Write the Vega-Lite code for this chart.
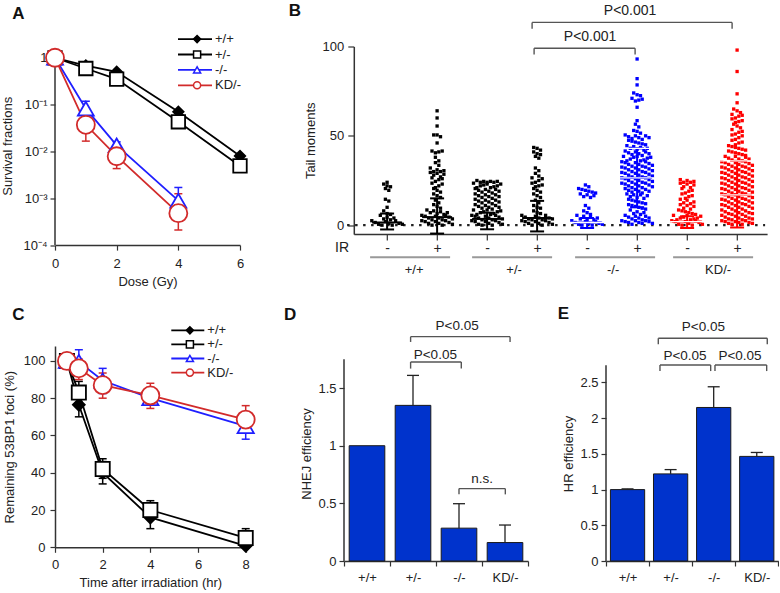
{
"$schema":"https://vega.github.io/schema/vega-lite/v6.json",
"padding":{"left":1,"top":1.5,"right":0,"bottom":0},
"background":"white",
"config":{
 "view":{"stroke":null},
 "font":"Liberation Sans",
 "axis":{"domainColor":"#333","domainWidth":1.5,"tickColor":"#333","tickWidth":1.2,"tickSize":5,"labelFont":"Liberation Sans","labelFontSize":13,"labelColor":"#222","titleFont":"Liberation Sans","titleFontSize":13,"titleFontWeight":"normal","titleColor":"#222","grid":false,"labelPadding":3,"titlePadding":6,"labelFlush":false,"labelOverlap":false},
 "legend":{"labelFont":"Liberation Sans","labelFontSize":13,"labelColor":"#222"},
 "text":{"font":"Liberation Sans","color":"#222"}
},
"datasets":{
 "a":[{"g":"+/+","d":0,"s":1},{"g":"+/+","d":1,"s":0.68},{"g":"+/+","d":2,"s":0.5},{"g":"+/+","d":4,"s":0.07},{"g":"+/+","d":6,"s":0.008},
  {"g":"+/-","d":0,"s":1},{"g":"+/-","d":1,"s":0.59},{"g":"+/-","d":2,"s":0.35},{"g":"+/-","d":4,"s":0.043},{"g":"+/-","d":6,"s":0.0049},
  {"g":"-/-","d":0,"s":1},{"g":"-/-","d":1,"s":0.082},{"g":"-/-","d":2,"s":0.0135},{"g":"-/-","d":4,"s":0.00089},
  {"g":"KD/-","d":0,"s":1},{"g":"KD/-","d":1,"s":0.037},{"g":"KD/-","d":2,"s":0.0079},{"g":"KD/-","d":4,"s":0.00048}],
 "ae":[{"g":"-/-","d":1,"lo":0.06,"hi":0.118},{"g":"-/-","d":2,"lo":0.011,"hi":0.016},{"g":"-/-","d":4,"lo":0.0006,"hi":0.0017},
  {"g":"KD/-","d":1,"lo":0.0166,"hi":0.05},{"g":"KD/-","d":2,"lo":0.0043,"hi":0.011},{"g":"KD/-","d":4,"lo":0.00021,"hi":0.00125}],
 "c":[{"g":"+/+","t":0.5,"f":100},{"g":"+/+","t":1,"f":76.5},{"g":"+/+","t":2,"f":40},{"g":"+/+","t":4,"f":16},{"g":"+/+","t":8,"f":0.8},
  {"g":"+/-","t":0.5,"f":100},{"g":"+/-","t":1,"f":83},{"g":"+/-","t":2,"f":42},{"g":"+/-","t":4,"f":20},{"g":"+/-","t":8,"f":5},
  {"g":"-/-","t":0.5,"f":100},{"g":"-/-","t":1,"f":99.5},{"g":"-/-","t":2,"f":89.5},{"g":"-/-","t":4,"f":80},{"g":"-/-","t":8,"f":65},
  {"g":"KD/-","t":0.5,"f":100},{"g":"KD/-","t":1,"f":96},{"g":"KD/-","t":2,"f":87},{"g":"KD/-","t":4,"f":81.5},{"g":"KD/-","t":8,"f":68.5}],
 "ce":[{"g":"+/+","t":1,"lo":70,"hi":83},{"g":"+/+","t":2,"lo":34,"hi":46},{"g":"+/+","t":4,"lo":10,"hi":22},{"g":"+/+","t":8,"lo":0,"hi":2},
  {"g":"+/-","t":1,"lo":77,"hi":89},{"g":"+/-","t":2,"lo":37,"hi":47.5},{"g":"+/-","t":4,"lo":15,"hi":25},{"g":"+/-","t":8,"lo":0,"hi":10},
  {"g":"-/-","t":1,"lo":93,"hi":106},{"g":"-/-","t":2,"lo":82.5,"hi":96},{"g":"-/-","t":4,"lo":78,"hi":84},{"g":"-/-","t":8,"lo":58,"hi":72},
  {"g":"KD/-","t":1,"lo":90,"hi":101},{"g":"KD/-","t":2,"lo":80,"hi":93.5},{"g":"KD/-","t":4,"lo":74.5,"hi":88},{"g":"KD/-","t":8,"lo":63,"hi":76}],
 "d":[{"g":"+/+","v":1.0,"e":null},{"g":"+/-","v":1.35,"e":1.61},{"g":"-/-","v":0.285,"e":0.497},{"g":"KD/-","v":0.16,"e":0.312}],
 "db":[{"x1":1.448,"x2":2.55,"y":1.726,"yd":1.669,"t":"P<0.05","tx":1.985,"ty":1.79},
  {"x1":1.448,"x2":3.61,"y":1.946,"yd":1.9,"t":"P<0.05","tx":2.46,"ty":2.04},
  {"x1":2.5,"x2":3.507,"y":0.628,"yd":0.578,"t":"n.s.","tx":3.0,"ty":0.71}],
 "e":[{"g":"+/+","v":1.0,"e":1.01},{"g":"+/-","v":1.22,"e":1.28},{"g":"-/-","v":2.15,"e":2.44},{"g":"KD/-","v":1.465,"e":1.52}],
 "eb":[{"x1":1.253,"x2":2.43,"y":2.745,"yd":2.66,"t":"P<0.05","tx":1.834,"ty":2.87},
  {"x1":2.53,"x2":3.73,"y":2.745,"yd":2.66,"t":"P<0.05","tx":3.11,"ty":2.87},
  {"x1":1.214,"x2":3.744,"y":3.12,"yd":3.035,"t":"P<0.05","tx":2.26,"ty":3.28}],
 "bm":[{"c":1,"m":1.5,"lo":-2.4,"hi":6.5},{"c":2,"m":4.5,"lo":-4.7,"hi":15},{"c":3,"m":3.5,"lo":-2.3,"hi":7},{"c":4,"m":4,"lo":-3.5,"hi":13.6},
  {"c":5,"m":1.5,"lo":-1.6,"hi":4},{"c":6,"m":26.5,"lo":10,"hi":43},{"c":7,"m":2,"lo":-1.6,"hi":5},{"c":8,"m":17,"lo":-1.3,"hi":36}],
 "bb":[{"x1":3.94,"x2":5.96,"y":99,"yd":95.5,"t":"P<0.001","tx":5.06,"ty":105.5},{"x1":3.9,"x2":7.9,"y":113.5,"yd":110,"t":"P<0.001","tx":5.86,"ty":120}],
 "bg":[{"l":"+/+","a":0.66,"b":2.26,"m":1.54},{"l":"+/-","a":2.7,"b":4.3,"m":3.54},{"l":"-/-","a":4.76,"b":6.36,"m":5.52},{"l":"KD/-","a":6.72,"b":8.32,"m":7.62}],
 "b":[
{"c":1,"v":0},{"c":1,"v":0},{"c":1,"v":0.5},{"c":1,"v":0.5},{"c":1,"v":1},{"c":1,"v":1},{"c":1,"v":1.5},{"c":1,"v":2},{"c":1,"v":2.5},{"c":1,"v":2.5},
{"c":1,"v":3},{"c":1,"v":3.5},{"c":1,"v":4},{"c":1,"v":4.5},{"c":1,"v":5.5},{"c":1,"v":6},{"c":1,"v":6.5},{"c":1,"v":8},{"c":1,"v":10},{"c":1,"v":13.5},
{"c":1,"v":14.5},{"c":1,"v":19.5},{"c":1,"v":20.5},{"c":1,"v":21.5},{"c":1,"v":22},{"c":1,"v":23},{"c":1,"v":24},
{"c":2,"v":0},{"c":2,"v":0},{"c":2,"v":0.5},{"c":2,"v":1},{"c":2,"v":1},{"c":2,"v":1.5},{"c":2,"v":2},{"c":2,"v":2},{"c":2,"v":2.5},{"c":2,"v":2.5},
{"c":2,"v":3},{"c":2,"v":3},{"c":2,"v":3.5},{"c":2,"v":4},{"c":2,"v":4},{"c":2,"v":4.5},{"c":2,"v":5},{"c":2,"v":5},{"c":2,"v":5.5},{"c":2,"v":5.5},
{"c":2,"v":6},{"c":2,"v":6.5},{"c":2,"v":7},{"c":2,"v":7},{"c":2,"v":7.5},{"c":2,"v":8},{"c":2,"v":8.5},{"c":2,"v":9.5},{"c":2,"v":10.5},{"c":2,"v":11.5},
{"c":2,"v":12.5},{"c":2,"v":14},{"c":2,"v":15.5},{"c":2,"v":16.5},{"c":2,"v":17.5},{"c":2,"v":18.5},{"c":2,"v":19.5},{"c":2,"v":20.5},{"c":2,"v":21},{"c":2,"v":22},
{"c":2,"v":23},{"c":2,"v":23.5},{"c":2,"v":24.5},{"c":2,"v":25.5},{"c":2,"v":26},{"c":2,"v":26.5},{"c":2,"v":27},{"c":2,"v":28},{"c":2,"v":28.5},{"c":2,"v":29},
{"c":2,"v":29.5},{"c":2,"v":30},{"c":2,"v":30},{"c":2,"v":30.5},{"c":2,"v":31},{"c":2,"v":32},{"c":2,"v":33.5},{"c":2,"v":35},{"c":2,"v":36},{"c":2,"v":38},
{"c":2,"v":40.5},{"c":2,"v":41},{"c":2,"v":41.5},{"c":2,"v":41.5},{"c":2,"v":46},{"c":2,"v":49.5},{"c":2,"v":50.5},{"c":2,"v":50.5},{"c":2,"v":55.5},{"c":2,"v":60},{"c":2,"v":64},
{"c":3,"v":0},{"c":3,"v":0},{"c":3,"v":0.5},{"c":3,"v":0.5},{"c":3,"v":1},{"c":3,"v":1.5},{"c":3,"v":2},{"c":3,"v":2},{"c":3,"v":2.5},{"c":3,"v":2.5},
{"c":3,"v":3},{"c":3,"v":3},{"c":3,"v":3.5},{"c":3,"v":4},{"c":3,"v":4},{"c":3,"v":4.5},{"c":3,"v":5},{"c":3,"v":5},{"c":3,"v":5.5},{"c":3,"v":5.5},
{"c":3,"v":6},{"c":3,"v":6},{"c":3,"v":6.5},{"c":3,"v":7},{"c":3,"v":7.5},{"c":3,"v":7.5},{"c":3,"v":8},{"c":3,"v":8.5},{"c":3,"v":8.5},
{"c":3,"v":9},{"c":3,"v":9.5},{"c":3,"v":10},{"c":3,"v":10},{"c":3,"v":10.5},{"c":3,"v":11},{"c":3,"v":11},{"c":3,"v":11.5},
{"c":3,"v":12},{"c":3,"v":12.5},{"c":3,"v":13},{"c":3,"v":13},{"c":3,"v":13.5},{"c":3,"v":14},{"c":3,"v":14},{"c":3,"v":14.5},
{"c":3,"v":15},{"c":3,"v":15.5},{"c":3,"v":16},{"c":3,"v":16},{"c":3,"v":16.5},{"c":3,"v":17},{"c":3,"v":17},{"c":3,"v":17.5},
{"c":3,"v":18},{"c":3,"v":18.5},{"c":3,"v":19},{"c":3,"v":19},{"c":3,"v":19.5},{"c":3,"v":20},{"c":3,"v":20},{"c":3,"v":20.5},
{"c":3,"v":21},{"c":3,"v":21},{"c":3,"v":21.5},{"c":3,"v":22},{"c":3,"v":22},{"c":3,"v":22.5},{"c":3,"v":23},{"c":3,"v":23},{"c":3,"v":23.5},
{"c":3,"v":24},{"c":3,"v":24},{"c":3,"v":24},{"c":3,"v":24.5},{"c":3,"v":24.5},{"c":3,"v":24.5},{"c":3,"v":25},
{"c":4,"v":0},{"c":4,"v":0},{"c":4,"v":0.5},{"c":4,"v":1},{"c":4,"v":1},{"c":4,"v":1.5},{"c":4,"v":2},{"c":4,"v":2},{"c":4,"v":2.5},{"c":4,"v":2.5},
{"c":4,"v":3},{"c":4,"v":3},{"c":4,"v":3.5},{"c":4,"v":3.5},{"c":4,"v":4},{"c":4,"v":4},{"c":4,"v":4.5},{"c":4,"v":5},{"c":4,"v":5.5},{"c":4,"v":5.5},
{"c":4,"v":6.5},{"c":4,"v":7},{"c":4,"v":8},{"c":4,"v":9.5},{"c":4,"v":10},{"c":4,"v":11},{"c":4,"v":12.5},{"c":4,"v":14},{"c":4,"v":15.5},{"c":4,"v":16.5},
{"c":4,"v":17.5},{"c":4,"v":18.5},{"c":4,"v":19.5},{"c":4,"v":20.5},{"c":4,"v":21.5},{"c":4,"v":22},{"c":4,"v":22.5},{"c":4,"v":23.5},{"c":4,"v":24},{"c":4,"v":25},
{"c":4,"v":26},{"c":4,"v":26.5},{"c":4,"v":27.5},{"c":4,"v":29},{"c":4,"v":30.5},{"c":4,"v":32},{"c":4,"v":37.5},{"c":4,"v":38.5},{"c":4,"v":39.5},{"c":4,"v":40},
{"c":4,"v":41},{"c":4,"v":42},{"c":4,"v":43},{"c":4,"v":43.5},
{"c":5,"v":0},{"c":5,"v":0},{"c":5,"v":0.5},{"c":5,"v":0.5},{"c":5,"v":1},{"c":5,"v":1},{"c":5,"v":1.5},{"c":5,"v":2},{"c":5,"v":2},{"c":5,"v":2.5},
{"c":5,"v":3},{"c":5,"v":3},{"c":5,"v":3.5},{"c":5,"v":4},{"c":5,"v":4.5},{"c":5,"v":5},{"c":5,"v":5.5},{"c":5,"v":6},{"c":5,"v":7},{"c":5,"v":8},
{"c":5,"v":9.5},{"c":5,"v":11},{"c":5,"v":15.5},{"c":5,"v":16},{"c":5,"v":16.5},{"c":5,"v":17},{"c":5,"v":17.5},{"c":5,"v":18},{"c":5,"v":18.5},{"c":5,"v":19},
{"c":5,"v":19.5},{"c":5,"v":20},{"c":5,"v":20.5},{"c":5,"v":21.5},{"c":5,"v":22.5},
{"c":6,"v":0.5},{"c":6,"v":1},{"c":6,"v":1},{"c":6,"v":1.5},{"c":6,"v":1.5},{"c":6,"v":2},{"c":6,"v":2},{"c":6,"v":2.5},{"c":6,"v":2.5},{"c":6,"v":2.5},
{"c":6,"v":3},{"c":6,"v":3.5},{"c":6,"v":4},{"c":6,"v":4},{"c":6,"v":4.5},{"c":6,"v":5},{"c":6,"v":5},{"c":6,"v":5.5},
{"c":6,"v":6},{"c":6,"v":6.5},{"c":6,"v":7},{"c":6,"v":7.5},{"c":6,"v":8.5},
{"c":6,"v":9},{"c":6,"v":9.5},{"c":6,"v":10},{"c":6,"v":10.5},{"c":6,"v":11},{"c":6,"v":11.5},
{"c":6,"v":12},{"c":6,"v":12.5},{"c":6,"v":13},{"c":6,"v":13.5},{"c":6,"v":14},{"c":6,"v":14.5},
{"c":6,"v":15},{"c":6,"v":15.5},{"c":6,"v":16},{"c":6,"v":16.5},{"c":6,"v":17},{"c":6,"v":17},{"c":6,"v":17.5},
{"c":6,"v":18},{"c":6,"v":18.5},{"c":6,"v":19},{"c":6,"v":19},{"c":6,"v":19.5},{"c":6,"v":20},{"c":6,"v":20},{"c":6,"v":20.5},
{"c":6,"v":21},{"c":6,"v":21},{"c":6,"v":21.5},{"c":6,"v":22},{"c":6,"v":22},{"c":6,"v":22.5},{"c":6,"v":23},{"c":6,"v":23},{"c":6,"v":23.5},{"c":6,"v":23.5},
{"c":6,"v":24},{"c":6,"v":24},{"c":6,"v":24.5},{"c":6,"v":25},{"c":6,"v":25},{"c":6,"v":25.5},{"c":6,"v":26},{"c":6,"v":26},{"c":6,"v":26.5},{"c":6,"v":26.5},
{"c":6,"v":27},{"c":6,"v":27},{"c":6,"v":27.5},{"c":6,"v":28},{"c":6,"v":28},{"c":6,"v":28.5},{"c":6,"v":29},{"c":6,"v":29},{"c":6,"v":29.5},{"c":6,"v":29.5},
{"c":6,"v":30},{"c":6,"v":30},{"c":6,"v":30.5},{"c":6,"v":31},{"c":6,"v":31},{"c":6,"v":31.5},{"c":6,"v":32},{"c":6,"v":32},{"c":6,"v":32.5},{"c":6,"v":32.5},
{"c":6,"v":33},{"c":6,"v":33},{"c":6,"v":33.5},{"c":6,"v":34},{"c":6,"v":34},{"c":6,"v":34.5},{"c":6,"v":35},{"c":6,"v":35},{"c":6,"v":35.5},{"c":6,"v":35.5},
{"c":6,"v":36},{"c":6,"v":36},{"c":6,"v":36.5},{"c":6,"v":37},{"c":6,"v":37.5},{"c":6,"v":38},{"c":6,"v":38},{"c":6,"v":38.5},{"c":6,"v":38.5},
{"c":6,"v":39},{"c":6,"v":39.5},{"c":6,"v":40},{"c":6,"v":40},{"c":6,"v":40.5},{"c":6,"v":41},{"c":6,"v":41},{"c":6,"v":41.5},
{"c":6,"v":42},{"c":6,"v":42.5},{"c":6,"v":43},{"c":6,"v":43},{"c":6,"v":43.5},{"c":6,"v":44},{"c":6,"v":44.5},
{"c":6,"v":45},{"c":6,"v":45.5},{"c":6,"v":46},{"c":6,"v":46.5},{"c":6,"v":47},{"c":6,"v":47.5},
{"c":6,"v":48},{"c":6,"v":48.5},{"c":6,"v":49},{"c":6,"v":49},{"c":6,"v":49.5},{"c":6,"v":50},{"c":6,"v":50},{"c":6,"v":50.5},
{"c":6,"v":51.5},{"c":6,"v":52.5},{"c":6,"v":53},{"c":6,"v":55},{"c":6,"v":56.5},{"c":6,"v":58.5},{"c":6,"v":66},
{"c":6,"v":69.5},{"c":6,"v":70},{"c":6,"v":70.5},{"c":6,"v":71},{"c":6,"v":72.5},{"c":6,"v":73},{"c":6,"v":74},{"c":6,"v":78.5},{"c":6,"v":82},{"c":6,"v":93},
{"c":7,"v":0},{"c":7,"v":0},{"c":7,"v":0.5},{"c":7,"v":0.5},{"c":7,"v":1},{"c":7,"v":1.5},{"c":7,"v":2},{"c":7,"v":2},{"c":7,"v":2.5},{"c":7,"v":2.5},
{"c":7,"v":3},{"c":7,"v":3},{"c":7,"v":3.5},{"c":7,"v":4},{"c":7,"v":4},{"c":7,"v":4.5},{"c":7,"v":5},{"c":7,"v":5.5},{"c":7,"v":5.5},
{"c":7,"v":6},{"c":7,"v":6.5},{"c":7,"v":7},{"c":7,"v":7.5},{"c":7,"v":8},{"c":7,"v":8.5},
{"c":7,"v":9},{"c":7,"v":9.5},{"c":7,"v":10.5},{"c":7,"v":11},{"c":7,"v":11.5},{"c":7,"v":12},{"c":7,"v":12.5},{"c":7,"v":13},{"c":7,"v":14},{"c":7,"v":14.5},
{"c":7,"v":15},{"c":7,"v":16},{"c":7,"v":16.5},{"c":7,"v":17.5},{"c":7,"v":18},{"c":7,"v":19},{"c":7,"v":19.5},{"c":7,"v":20.5},
{"c":7,"v":21},{"c":7,"v":21.5},{"c":7,"v":22.5},{"c":7,"v":23},{"c":7,"v":23.5},{"c":7,"v":24},{"c":7,"v":24},{"c":7,"v":24.5},{"c":7,"v":25},{"c":7,"v":25.5},
{"c":8,"v":0.5},{"c":8,"v":0.5},{"c":8,"v":1},{"c":8,"v":1},{"c":8,"v":1.5},{"c":8,"v":1.5},{"c":8,"v":2},{"c":8,"v":2},{"c":8,"v":2.5},{"c":8,"v":2.5},
{"c":8,"v":3},{"c":8,"v":3},{"c":8,"v":3.5},{"c":8,"v":3.5},{"c":8,"v":4},{"c":8,"v":4},{"c":8,"v":4.5},{"c":8,"v":5},{"c":8,"v":5},{"c":8,"v":5.5},
{"c":8,"v":6},{"c":8,"v":6},{"c":8,"v":6.5},{"c":8,"v":6.5},{"c":8,"v":7},{"c":8,"v":7},{"c":8,"v":7.5},{"c":8,"v":8},{"c":8,"v":8},{"c":8,"v":8.5},
{"c":8,"v":9},{"c":8,"v":9},{"c":8,"v":9.5},{"c":8,"v":10},{"c":8,"v":10},{"c":8,"v":10.5},{"c":8,"v":11},{"c":8,"v":11},{"c":8,"v":11.5},{"c":8,"v":11.5},
{"c":8,"v":12},{"c":8,"v":12},{"c":8,"v":12.5},{"c":8,"v":13},{"c":8,"v":13},{"c":8,"v":13.5},{"c":8,"v":14},{"c":8,"v":14},{"c":8,"v":14.5},{"c":8,"v":14.5},
{"c":8,"v":15},{"c":8,"v":15},{"c":8,"v":15.5},{"c":8,"v":16},{"c":8,"v":16},{"c":8,"v":16.5},{"c":8,"v":17},{"c":8,"v":17},{"c":8,"v":17.5},{"c":8,"v":17.5},
{"c":8,"v":18},{"c":8,"v":18},{"c":8,"v":18.5},{"c":8,"v":19},{"c":8,"v":19},{"c":8,"v":19.5},{"c":8,"v":20},{"c":8,"v":20},{"c":8,"v":20.5},{"c":8,"v":20.5},
{"c":8,"v":21},{"c":8,"v":21},{"c":8,"v":21.5},{"c":8,"v":22},{"c":8,"v":22},{"c":8,"v":22.5},{"c":8,"v":23},{"c":8,"v":23},{"c":8,"v":23.5},{"c":8,"v":23.5},
{"c":8,"v":24},{"c":8,"v":24},{"c":8,"v":24.5},{"c":8,"v":25},{"c":8,"v":25},{"c":8,"v":25.5},{"c":8,"v":26},{"c":8,"v":26},{"c":8,"v":26.5},{"c":8,"v":26.5},
{"c":8,"v":27},{"c":8,"v":27},{"c":8,"v":27.5},{"c":8,"v":28},{"c":8,"v":28},{"c":8,"v":28.5},{"c":8,"v":29},{"c":8,"v":29},{"c":8,"v":29.5},{"c":8,"v":29.5},
{"c":8,"v":30},{"c":8,"v":30},{"c":8,"v":30.5},{"c":8,"v":31},{"c":8,"v":31},{"c":8,"v":31.5},{"c":8,"v":32},{"c":8,"v":32},{"c":8,"v":32.5},{"c":8,"v":32.5},
{"c":8,"v":33},{"c":8,"v":33},{"c":8,"v":33.5},{"c":8,"v":34},{"c":8,"v":34},{"c":8,"v":34.5},{"c":8,"v":35},{"c":8,"v":35},{"c":8,"v":35.5},{"c":8,"v":35.5},
{"c":8,"v":36},{"c":8,"v":36.5},{"c":8,"v":37},{"c":8,"v":37},{"c":8,"v":37.5},{"c":8,"v":38},{"c":8,"v":38.5},{"c":8,"v":38.5},
{"c":8,"v":39},{"c":8,"v":39.5},{"c":8,"v":40},{"c":8,"v":40.5},{"c":8,"v":41},{"c":8,"v":41.5},{"c":8,"v":42},{"c":8,"v":42.5},{"c":8,"v":43},{"c":8,"v":43.5},{"c":8,"v":44},{"c":8,"v":44.5},
{"c":8,"v":45},{"c":8,"v":46},{"c":8,"v":46.5},{"c":8,"v":47.5},{"c":8,"v":48},{"c":8,"v":49},{"c":8,"v":50},{"c":8,"v":50.5},{"c":8,"v":51},{"c":8,"v":52},
{"c":8,"v":52.5},{"c":8,"v":53.5},{"c":8,"v":54.5},{"c":8,"v":55.5},{"c":8,"v":56.5},{"c":8,"v":57.5},{"c":8,"v":58},{"c":8,"v":58.5},{"c":8,"v":59.5},
{"c":8,"v":60},{"c":8,"v":61},{"c":8,"v":61.5},{"c":8,"v":62},{"c":8,"v":63},{"c":8,"v":64},{"c":8,"v":65},{"c":8,"v":68.5},{"c":8,"v":73.5},{"c":8,"v":86},{"c":8,"v":98}
 ]
},
"spacing":16.5,
"resolve":{"scale":{"color":"independent","fill":"independent","stroke":"independent","shape":"independent","size":"independent"}},
"vconcat":[
 {"hconcat":[
  {"width":185,"height":198.6,
   "layer":[
    {"data":{"values":[{}]},"mark":{"type":"rule","color":"#333","strokeWidth":1.5},
     "encoding":{"x":{"datum":0,"type":"quantitative","scale":{"domain":[0,6],"nice":false,"zero":false},"axis":{"values":[0,2,4,6],"title":"Dose (Gy)","labelPadding":7,"titlePadding":5}},
      "y":{"datum":0.0001,"type":"quantitative","scale":{"type":"log","domain":[0.0001,1.74],"nice":false},"axis":{"values":[0.0001,0.001,0.01,0.1,1],"domain":false,"labelExpr":"datum.value >= 0.99 ? '1' : '10' + ['','⁻¹','⁻²','⁻³','⁻⁴'][round(-log(datum.value)/LN10)]","title":"Survival fractions","titlePadding":8}},
      "y2":{"datum":1}}},
    {"data":{"name":"ae"},"mark":{"type":"rule","strokeWidth":1.5},
     "encoding":{"x":{"field":"d","type":"quantitative","scale":{"domain":[0,6],"nice":false,"zero":false}},
      "y":{"field":"lo","type":"quantitative","scale":{"type":"log","domain":[0.0001,1.74],"nice":false}},
      "y2":{"field":"hi"},
      "color":{"field":"g","type":"nominal","scale":{"range":["#000000","#000000","#1f1fff","#d22b2b"]},
       "legend":{"orient":"none","legendX":122,"legendY":-13.9,"title":null,"symbolType":"stroke","symbolSize":1156,"symbolStrokeWidth":1.8,"clipHeight":13,"rowPadding":1.4,"padding":0,"labelOffset":2,"labelFontSize":13}}}},
    {"data":{"name":"ae"},"mark":{"type":"tick","orient":"horizontal","size":8,"thickness":1.5,"opacity":1},
     "encoding":{"x":{"field":"d","type":"quantitative","scale":{"domain":[0,6],"nice":false,"zero":false}},
      "y":{"field":"hi","type":"quantitative","scale":{"type":"log","domain":[0.0001,1.74],"nice":false}},
      "color":{"field":"g","type":"nominal","scale":{"range":["#000000","#000000","#1f1fff","#d22b2b"]},
       "legend":{"orient":"none","legendX":122,"legendY":-13.9,"title":null,"symbolType":"stroke","symbolSize":1156,"symbolStrokeWidth":1.8,"clipHeight":13,"rowPadding":1.4,"padding":0,"labelOffset":2,"labelFontSize":13}}}},
    {"data":{"name":"ae"},"mark":{"type":"tick","orient":"horizontal","size":8,"thickness":1.5,"opacity":1},
     "encoding":{"x":{"field":"d","type":"quantitative","scale":{"domain":[0,6],"nice":false,"zero":false}},
      "y":{"field":"lo","type":"quantitative","scale":{"type":"log","domain":[0.0001,1.74],"nice":false}},
      "color":{"field":"g","type":"nominal","scale":{"range":["#000000","#000000","#1f1fff","#d22b2b"]},
       "legend":{"orient":"none","legendX":122,"legendY":-13.9,"title":null,"symbolType":"stroke","symbolSize":1156,"symbolStrokeWidth":1.8,"clipHeight":13,"rowPadding":1.4,"padding":0,"labelOffset":2,"labelFontSize":13}}}},
    {"data":{"name":"a"},"mark":{"type":"line","strokeWidth":1.8},
     "encoding":{"x":{"field":"d","type":"quantitative","scale":{"domain":[0,6],"nice":false,"zero":false}},
      "y":{"field":"s","type":"quantitative","scale":{"type":"log","domain":[0.0001,1.74],"nice":false}},
      "color":{"field":"g","type":"nominal","scale":{"range":["#000000","#000000","#1f1fff","#d22b2b"]},
       "legend":{"orient":"none","legendX":122,"legendY":-13.9,"title":null,"symbolType":"stroke","symbolSize":1156,"symbolStrokeWidth":1.8,"clipHeight":13,"rowPadding":1.4,"padding":0,"labelOffset":2,"labelFontSize":13}}}},
    {"data":{"name":"a"},"transform":[{"calculate":"datum.g","as":"g2"},{"calculate":"datum.g","as":"g3"}],
     "mark":{"type":"point","filled":true,"strokeWidth":1.8,"opacity":1},
     "encoding":{"x":{"field":"d","type":"quantitative","scale":{"domain":[0,6],"nice":false,"zero":false}},
      "y":{"field":"s","type":"quantitative","scale":{"type":"log","domain":[0.0001,1.74],"nice":false}},
      "shape":{"field":"g2","type":"nominal","scale":{"range":["diamond","square","triangle-up","circle"]},
       "legend":{"orient":"none","legendX":122,"legendY":-13.9,"title":null,"symbolSize":50,"symbolStrokeWidth":1.5,"symbolOffset":13.6,"clipHeight":13,"rowPadding":1.4,"padding":0,"labelExpr":"''","labelFontSize":13,"zindex":1}},
      "fill":{"field":"g2","type":"nominal","scale":{"range":["#000000","#ffffff","#ffffff","#ffffff"]},
       "legend":{"orient":"none","legendX":122,"legendY":-13.9,"title":null,"symbolSize":50,"symbolStrokeWidth":1.5,"symbolOffset":13.6,"clipHeight":13,"rowPadding":1.4,"padding":0,"labelExpr":"''","labelFontSize":13,"zindex":1}},
      "stroke":{"field":"g2","type":"nominal","scale":{"range":["#000000","#000000","#1f1fff","#d22b2b"]},
       "legend":{"orient":"none","legendX":122,"legendY":-13.9,"title":null,"symbolSize":50,"symbolStrokeWidth":1.5,"symbolOffset":13.6,"clipHeight":13,"rowPadding":1.4,"padding":0,"labelExpr":"''","labelFontSize":13,"zindex":1}},
      "size":{"field":"g3","type":"ordinal","scale":{"range":[110,324,170,361]},"legend":null}}},
    {"data":{"values":[{"t":"A"}]},"mark":{"type":"text","fontSize":17,"fontWeight":"bold","baseline":"middle","align":"center","color":"#111"},
     "encoding":{"x":{"datum":-1.19,"type":"quantitative","scale":{"domain":[0,6],"nice":false,"zero":false}},
      "y":{"datum":8.62,"type":"quantitative","scale":{"type":"log","domain":[0.0001,1.74],"nice":false}},
      "text":{"field":"t"}}}
   ]},
  {"width":413.3,"height":187.6,
   "layer":[
    {"data":{"values":[{}]},"mark":{"type":"rule","strokeDash":[2.5,5.5],"strokeWidth":2.2,"color":"#222"},
     "encoding":{"x":{"datum":0.2,"type":"quantitative","scale":{"domain":[0.334,8.6],"nice":false,"zero":false}},"x2":{"datum":8.56},
      "y":{"datum":0,"type":"quantitative","scale":{"domain":[-5,100],"nice":false,"zero":false}}}},
    {"data":{"name":"b"},
     "transform":[
      {"calculate":"floor(datum.v/3)","as":"bin"},
      {"joinaggregate":[{"op":"count","as":"n"}],"groupby":["c","bin"]},
      {"window":[{"op":"row_number","as":"r"}],"groupby":["c","bin"],"sort":[{"field":"v"}]},
      {"calculate":"datum.n % 5 == 0 ? (datum.r * 3) % datum.n : (datum.r * 5) % datum.n","as":"p"},
      {"calculate":"datum.c + (datum.p - (datum.n - 1) / 2) * min(3.4, 34 / datum.n) / 50","as":"xx"}],
     "mark":{"type":"square","size":11,"opacity":1},
     "encoding":{"x":{"field":"xx","type":"quantitative","scale":{"domain":[0.334,8.6],"nice":false,"zero":false},
       "axis":{"values":[1,2,3,4,5,6,7,8],"labelExpr":"datum.value % 2 == 1 ? '-' : '+'","title":null,"tickSize":6,"labelFontSize":14,"labelPadding":1}},
      "y":{"field":"v","type":"quantitative","scale":{"domain":[-5,100],"nice":false,"zero":false},"axis":{"values":[0,50,100],"title":"Tail moments","tickSize":6,"labelPadding":4,"titlePadding":5}},
      "color":{"field":"c","type":"ordinal","scale":{"domain":[1,2,3,4,5,6,7,8],"range":["#000000","#000000","#000000","#000000","#0000ff","#0000ff","#ff0000","#ff0000"]},"legend":null}}},
    {"data":{"name":"bm"},"mark":{"type":"rule","strokeWidth":2},
     "encoding":{"x":{"field":"c","type":"quantitative","scale":{"domain":[0.334,8.6],"nice":false,"zero":false}},
      "y":{"field":"lo","type":"quantitative","scale":{"domain":[-5,100],"nice":false,"zero":false}},"y2":{"field":"hi"},
      "color":{"field":"c","type":"ordinal","legend":null}}},
    {"data":{"name":"bm"},"mark":{"type":"tick","orient":"horizontal","size":30,"thickness":2,"opacity":1},
     "encoding":{"x":{"field":"c","type":"quantitative","scale":{"domain":[0.334,8.6],"nice":false,"zero":false}},
      "y":{"field":"m","type":"quantitative","scale":{"domain":[-5,100],"nice":false,"zero":false}},
      "color":{"field":"c","type":"ordinal","legend":null}}},
    {"data":{"name":"bm"},"mark":{"type":"tick","orient":"horizontal","size":14,"thickness":2,"opacity":1},
     "encoding":{"x":{"field":"c","type":"quantitative","scale":{"domain":[0.334,8.6],"nice":false,"zero":false}},
      "y":{"field":"lo","type":"quantitative","scale":{"domain":[-5,100],"nice":false,"zero":false}},
      "color":{"field":"c","type":"ordinal","legend":null}}},
    {"data":{"name":"bm"},"mark":{"type":"tick","orient":"horizontal","size":14,"thickness":2,"opacity":1},
     "encoding":{"x":{"field":"c","type":"quantitative","scale":{"domain":[0.334,8.6],"nice":false,"zero":false}},
      "y":{"field":"hi","type":"quantitative","scale":{"domain":[-5,100],"nice":false,"zero":false}},
      "color":{"field":"c","type":"ordinal","legend":null}}},
    {"data":{"name":"bm"},"transform":[{"filter":"datum.c >= 5"}],"mark":{"type":"tick","orient":"horizontal","size":34,"thickness":1.3,"opacity":1,"color":"#ffffff"},
     "encoding":{"x":{"field":"c","type":"quantitative","scale":{"domain":[0.334,8.6],"nice":false,"zero":false}},
      "y":{"field":"m","type":"quantitative","scale":{"domain":[-5,100],"nice":false,"zero":false}}}},
    {"data":{"name":"bm"},"transform":[{"filter":"datum.c == 6 || datum.c == 8"}],"mark":{"type":"tick","orient":"horizontal","size":34,"thickness":1.3,"opacity":1,"color":"#ffffff"},
     "encoding":{"x":{"field":"c","type":"quantitative","scale":{"domain":[0.334,8.6],"nice":false,"zero":false}},
      "y":{"field":"hi","type":"quantitative","scale":{"domain":[-5,100],"nice":false,"zero":false}}}},
    {"data":{"name":"bb"},"mark":{"type":"rule","color":"#555","strokeWidth":1.4},
     "encoding":{"x":{"field":"x1","type":"quantitative","scale":{"domain":[0.334,8.6],"nice":false,"zero":false}},"x2":{"field":"x2"},
      "y":{"field":"y","type":"quantitative","scale":{"domain":[-5,100],"nice":false,"zero":false}}}},
    {"data":{"name":"bb"},"mark":{"type":"rule","color":"#555","strokeWidth":1.4},
     "encoding":{"x":{"field":"x1","type":"quantitative","scale":{"domain":[0.334,8.6],"nice":false,"zero":false}},
      "y":{"field":"y","type":"quantitative","scale":{"domain":[-5,100],"nice":false,"zero":false}},"y2":{"field":"yd"}}},
    {"data":{"name":"bb"},"mark":{"type":"rule","color":"#555","strokeWidth":1.4},
     "encoding":{"x":{"field":"x2","type":"quantitative","scale":{"domain":[0.334,8.6],"nice":false,"zero":false}},
      "y":{"field":"y","type":"quantitative","scale":{"domain":[-5,100],"nice":false,"zero":false}},"y2":{"field":"yd"}}},
    {"data":{"name":"bb"},"mark":{"type":"text","fontSize":14,"baseline":"middle","align":"center"},
     "encoding":{"x":{"field":"tx","type":"quantitative","scale":{"domain":[0.334,8.6],"nice":false,"zero":false}},
      "y":{"field":"ty","type":"quantitative","scale":{"domain":[-5,100],"nice":false,"zero":false}},"text":{"field":"t"}}},
    {"data":{"name":"bg"},"mark":{"type":"rule","color":"#999","strokeWidth":2},
     "encoding":{"x":{"field":"a","type":"quantitative","scale":{"domain":[0.334,8.6],"nice":false,"zero":false}},"x2":{"field":"b"},
      "y":{"datum":-17.9,"type":"quantitative","scale":{"domain":[-5,100],"nice":false,"zero":false}}}},
    {"data":{"name":"bg"},"mark":{"type":"text","fontSize":13,"baseline":"middle","align":"center"},
     "encoding":{"x":{"field":"m","type":"quantitative","scale":{"domain":[0.334,8.6],"nice":false,"zero":false}},
      "y":{"datum":-25.2,"type":"quantitative","scale":{"domain":[-5,100],"nice":false,"zero":false}},"text":{"field":"l"}}},
    {"data":{"values":[{"t":"IR"}]},"mark":{"type":"text","fontSize":14,"baseline":"middle","align":"center"},
     "encoding":{"x":{"datum":0.1,"type":"quantitative","scale":{"domain":[0.334,8.6],"nice":false,"zero":false}},
      "y":{"datum":-12.9,"type":"quantitative","scale":{"domain":[-5,100],"nice":false,"zero":false}},"text":{"field":"t"}}},
    {"data":{"values":[{"t":"B"}]},"mark":{"type":"text","fontSize":17,"fontWeight":"bold","baseline":"middle","align":"center","color":"#111"},
     "encoding":{"x":{"datum":-0.844,"type":"quantitative","scale":{"domain":[0.334,8.6],"nice":false,"zero":false}},
      "y":{"datum":119.8,"type":"quantitative","scale":{"domain":[-5,100],"nice":false,"zero":false}},"text":{"field":"t"}}}
   ]}
 ],"spacing":36.8,
 "resolve":{"scale":{"color":"independent","fill":"independent","stroke":"independent","shape":"independent","size":"independent"}}},
 {"hconcat":[
  {"width":190.7,"height":201.3,
   "layer":[
    {"data":{"name":"ce"},"mark":{"type":"rule","strokeWidth":1.5},
     "encoding":{"x":{"field":"t","type":"quantitative","scale":{"domain":[0,8],"nice":false,"zero":false},"axis":{"values":[0,2,4,6,8],"title":"Time after irradiation (hr)","labelPadding":6,"titlePadding":5}},
      "y":{"field":"lo","type":"quantitative","scale":{"domain":[0,108],"nice":false,"zero":false},"axis":{"values":[0,20,40,60,80,100],"title":"Remaining 53BP1 foci (%)","labelPadding":5,"titlePadding":6.5}},
      "y2":{"field":"hi"},
      "color":{"field":"g","type":"nominal","scale":{"range":["#000000","#000000","#1f1fff","#d22b2b"]},
       "legend":{"orient":"none","legendX":115.3,"legendY":-21.7,"title":null,"symbolType":"stroke","symbolSize":1089,"symbolStrokeWidth":1.8,"clipHeight":12,"rowPadding":1.1,"padding":0,"labelOffset":2,"labelFontSize":13}}}},
    {"data":{"name":"ce"},"mark":{"type":"tick","orient":"horizontal","size":8,"thickness":1.5,"opacity":1},
     "encoding":{"x":{"field":"t","type":"quantitative","scale":{"domain":[0,8],"nice":false,"zero":false}},
      "y":{"field":"hi","type":"quantitative","scale":{"domain":[0,108],"nice":false,"zero":false}},
      "color":{"field":"g","type":"nominal","scale":{"range":["#000000","#000000","#1f1fff","#d22b2b"]},
       "legend":{"orient":"none","legendX":115.3,"legendY":-21.7,"title":null,"symbolType":"stroke","symbolSize":1089,"symbolStrokeWidth":1.8,"clipHeight":12,"rowPadding":1.1,"padding":0,"labelOffset":2,"labelFontSize":13}}}},
    {"data":{"name":"ce"},"mark":{"type":"tick","orient":"horizontal","size":8,"thickness":1.5,"opacity":1},
     "encoding":{"x":{"field":"t","type":"quantitative","scale":{"domain":[0,8],"nice":false,"zero":false}},
      "y":{"field":"lo","type":"quantitative","scale":{"domain":[0,108],"nice":false,"zero":false}},
      "color":{"field":"g","type":"nominal","scale":{"range":["#000000","#000000","#1f1fff","#d22b2b"]},
       "legend":{"orient":"none","legendX":115.3,"legendY":-21.7,"title":null,"symbolType":"stroke","symbolSize":1089,"symbolStrokeWidth":1.8,"clipHeight":12,"rowPadding":1.1,"padding":0,"labelOffset":2,"labelFontSize":13}}}},
    {"data":{"name":"c"},"mark":{"type":"line","strokeWidth":1.8},
     "encoding":{"x":{"field":"t","type":"quantitative","scale":{"domain":[0,8],"nice":false,"zero":false}},
      "y":{"field":"f","type":"quantitative","scale":{"domain":[0,108],"nice":false,"zero":false}},
      "color":{"field":"g","type":"nominal","scale":{"range":["#000000","#000000","#1f1fff","#d22b2b"]},
       "legend":{"orient":"none","legendX":115.3,"legendY":-21.7,"title":null,"symbolType":"stroke","symbolSize":1089,"symbolStrokeWidth":1.8,"clipHeight":12,"rowPadding":1.1,"padding":0,"labelOffset":2,"labelFontSize":13}}}},
    {"data":{"name":"c"},"transform":[{"calculate":"datum.g","as":"g2"},{"calculate":"datum.g","as":"g3"}],
     "mark":{"type":"point","filled":true,"strokeWidth":1.8,"opacity":1},
     "encoding":{"x":{"field":"t","type":"quantitative","scale":{"domain":[0,8],"nice":false,"zero":false}},
      "y":{"field":"f","type":"quantitative","scale":{"domain":[0,108],"nice":false,"zero":false}},
      "shape":{"field":"g2","type":"nominal","scale":{"range":["diamond","square","triangle-up","circle"]},
       "legend":{"orient":"none","legendX":115.3,"legendY":-21.7,"title":null,"symbolSize":50,"symbolStrokeWidth":1.5,"symbolOffset":13.1,"clipHeight":12,"rowPadding":1.1,"padding":0,"labelExpr":"''","labelFontSize":13,"zindex":1}},
      "fill":{"field":"g2","type":"nominal","scale":{"range":["#000000","#ffffff","#ffffff","#ffffff"]},
       "legend":{"orient":"none","legendX":115.3,"legendY":-21.7,"title":null,"symbolSize":50,"symbolStrokeWidth":1.5,"symbolOffset":13.1,"clipHeight":12,"rowPadding":1.1,"padding":0,"labelExpr":"''","labelFontSize":13,"zindex":1}},
      "stroke":{"field":"g2","type":"nominal","scale":{"range":["#000000","#000000","#1f1fff","#d22b2b"]},
       "legend":{"orient":"none","legendX":115.3,"legendY":-21.7,"title":null,"symbolSize":50,"symbolStrokeWidth":1.5,"symbolOffset":13.1,"clipHeight":12,"rowPadding":1.1,"padding":0,"labelExpr":"''","labelFontSize":13,"zindex":1}},
      "size":{"field":"g3","type":"ordinal","scale":{"range":[140,324,170,340]},"legend":null}}},
    {"data":{"values":[{"t":"C"}]},"mark":{"type":"text","fontSize":17,"fontWeight":"bold","baseline":"middle","align":"center","color":"#111"},
     "encoding":{"x":{"datum":-1.54,"type":"quantitative","scale":{"domain":[0,8],"nice":false,"zero":false}},
      "y":{"datum":124.6,"type":"quantitative","scale":{"domain":[0,108],"nice":false,"zero":false}},
      "text":{"field":"t"}}}
   ]},
  {"hconcat":[
   {"width":184,"height":215,
    "resolve":{"scale":{"x":"independent"}},
    "layer":[
     {"data":{"name":"d"},
      "layer":[
       {"mark":{"type":"bar","color":"#0033cc","stroke":"#1a1a1a","strokeWidth":1,"width":{"band":0.775}},
        "encoding":{"x":{"field":"g","type":"nominal","sort":null,"scale":{"domain":["+/+","+/-","-/-","KD/-"],"paddingInner":0,"paddingOuter":0},"axis":{"title":null,"labelAngle":0,"tickBand":"extent","labelPadding":5}},
         "y":{"field":"v","type":"quantitative","scale":{"domain":[0,1.865],"nice":false,"zero":false},"axis":{"values":[0,0.5,1,1.5],"format":"~g","title":"NHEJ efficiency","titlePadding":4,"domain":false}}}},
       {"transform":[{"filter":"datum.e != null"}],"mark":{"type":"rule","color":"#222","strokeWidth":1.3},
        "encoding":{"x":{"field":"g","type":"nominal","sort":null,"scale":{"domain":["+/+","+/-","-/-","KD/-"],"paddingInner":0,"paddingOuter":0}},
         "y":{"field":"v","type":"quantitative","scale":{"domain":[0,1.865],"nice":false,"zero":false}},"y2":{"field":"e"}}},
       {"transform":[{"filter":"datum.e != null"}],"mark":{"type":"tick","orient":"horizontal","color":"#222","size":12,"thickness":1.3,"opacity":1},
        "encoding":{"x":{"field":"g","type":"nominal","sort":null,"scale":{"domain":["+/+","+/-","-/-","KD/-"],"paddingInner":0,"paddingOuter":0}},
         "y":{"field":"e","type":"quantitative","scale":{"domain":[0,1.865],"nice":false,"zero":false}}}}
      ]},
     {"layer":[
       {"data":{"values":[{}]},"mark":{"type":"rule","color":"#333","strokeWidth":1.5},
        "encoding":{"x":{"datum":0,"type":"quantitative","scale":{"domain":[0,4],"nice":false,"zero":false},"axis":null},
         "y":{"datum":0,"type":"quantitative","scale":{"domain":[0,1.865],"nice":false,"zero":false}},"y2":{"datum":1.75}}},
       {"data":{"name":"db"},"mark":{"type":"rule","color":"#555","strokeWidth":1.4},
        "encoding":{"x":{"field":"x1","type":"quantitative","scale":{"domain":[0,4],"nice":false,"zero":false},"axis":null},"x2":{"field":"x2"},
         "y":{"field":"y","type":"quantitative","scale":{"domain":[0,1.865],"nice":false,"zero":false}}}},
       {"data":{"name":"db"},"mark":{"type":"rule","color":"#555","strokeWidth":1.4},
        "encoding":{"x":{"field":"x1","type":"quantitative","scale":{"domain":[0,4],"nice":false,"zero":false},"axis":null},
         "y":{"field":"y","type":"quantitative","scale":{"domain":[0,1.865],"nice":false,"zero":false}},"y2":{"field":"yd"}}},
       {"data":{"name":"db"},"mark":{"type":"rule","color":"#555","strokeWidth":1.4},
        "encoding":{"x":{"field":"x2","type":"quantitative","scale":{"domain":[0,4],"nice":false,"zero":false},"axis":null},
         "y":{"field":"y","type":"quantitative","scale":{"domain":[0,1.865],"nice":false,"zero":false}},"y2":{"field":"yd"}}},
       {"data":{"name":"db"},"mark":{"type":"text","fontSize":13.5,"baseline":"middle","align":"center"},
        "encoding":{"x":{"field":"tx","type":"quantitative","scale":{"domain":[0,4],"nice":false,"zero":false},"axis":null},
         "y":{"field":"ty","type":"quantitative","scale":{"domain":[0,1.865],"nice":false,"zero":false}},"text":{"field":"t"}}},
       {"data":{"values":[{"t":"D"}]},"mark":{"type":"text","fontSize":17,"fontWeight":"bold","baseline":"middle","align":"center","color":"#111"},
        "encoding":{"x":{"datum":-1.172,"type":"quantitative","scale":{"domain":[0,4],"nice":false,"zero":false},"axis":null},
         "y":{"datum":2.137,"type":"quantitative","scale":{"domain":[0,1.865],"nice":false,"zero":false}},"text":{"field":"t"}}}
      ]}
    ]},
   {"width":172.3,"height":215,
    "resolve":{"scale":{"x":"independent"}},
    "layer":[
     {"data":{"name":"e"},
      "layer":[
       {"mark":{"type":"bar","color":"#0033cc","stroke":"#1a1a1a","strokeWidth":1,"width":{"band":0.795}},
        "encoding":{"x":{"field":"g","type":"nominal","sort":null,"scale":{"domain":["+/+","+/-","-/-","KD/-"],"paddingInner":0,"paddingOuter":0},"axis":{"title":null,"labelAngle":0,"tickBand":"extent","labelPadding":5}},
         "y":{"field":"v","type":"quantitative","scale":{"domain":[0,3.011],"nice":false,"zero":false},"axis":{"values":[0,0.5,1,1.5,2,2.5],"format":"~g","title":"HR efficiency","titlePadding":4,"domain":false}}}},
       {"mark":{"type":"rule","color":"#222","strokeWidth":1.3},
        "encoding":{"x":{"field":"g","type":"nominal","sort":null,"scale":{"domain":["+/+","+/-","-/-","KD/-"],"paddingInner":0,"paddingOuter":0}},
         "y":{"field":"v","type":"quantitative","scale":{"domain":[0,3.011],"nice":false,"zero":false}},"y2":{"field":"e"}}},
       {"mark":{"type":"tick","orient":"horizontal","color":"#222","size":12,"thickness":1.3,"opacity":1},
        "encoding":{"x":{"field":"g","type":"nominal","sort":null,"scale":{"domain":["+/+","+/-","-/-","KD/-"],"paddingInner":0,"paddingOuter":0}},
         "y":{"field":"e","type":"quantitative","scale":{"domain":[0,3.011],"nice":false,"zero":false}}}}
      ]},
     {"layer":[
       {"data":{"values":[{}]},"mark":{"type":"rule","color":"#333","strokeWidth":1.5},
        "encoding":{"x":{"datum":0,"type":"quantitative","scale":{"domain":[0,4],"nice":false,"zero":false},"axis":null},
         "y":{"datum":0,"type":"quantitative","scale":{"domain":[0,3.011],"nice":false,"zero":false}},"y2":{"datum":2.74}}},
       {"data":{"name":"eb"},"mark":{"type":"rule","color":"#555","strokeWidth":1.4},
        "encoding":{"x":{"field":"x1","type":"quantitative","scale":{"domain":[0,4],"nice":false,"zero":false},"axis":null},"x2":{"field":"x2"},
         "y":{"field":"y","type":"quantitative","scale":{"domain":[0,3.011],"nice":false,"zero":false}}}},
       {"data":{"name":"eb"},"mark":{"type":"rule","color":"#555","strokeWidth":1.4},
        "encoding":{"x":{"field":"x1","type":"quantitative","scale":{"domain":[0,4],"nice":false,"zero":false},"axis":null},
         "y":{"field":"y","type":"quantitative","scale":{"domain":[0,3.011],"nice":false,"zero":false}},"y2":{"field":"yd"}}},
       {"data":{"name":"eb"},"mark":{"type":"rule","color":"#555","strokeWidth":1.4},
        "encoding":{"x":{"field":"x2","type":"quantitative","scale":{"domain":[0,4],"nice":false,"zero":false},"axis":null},
         "y":{"field":"y","type":"quantitative","scale":{"domain":[0,3.011],"nice":false,"zero":false}},"y2":{"field":"yd"}}},
       {"data":{"name":"eb"},"mark":{"type":"text","fontSize":13.5,"baseline":"middle","align":"center"},
        "encoding":{"x":{"field":"tx","type":"quantitative","scale":{"domain":[0,4],"nice":false,"zero":false},"axis":null},
         "y":{"field":"ty","type":"quantitative","scale":{"domain":[0,3.011],"nice":false,"zero":false}},"text":{"field":"t"}}},
       {"data":{"values":[{"t":"E"}]},"mark":{"type":"text","fontSize":17,"fontWeight":"bold","baseline":"middle","align":"center","color":"#111"},
        "encoding":{"x":{"datum":-0.99,"type":"quantitative","scale":{"domain":[0,4],"nice":false,"zero":false},"axis":null},
         "y":{"datum":3.455,"type":"quantitative","scale":{"domain":[0,3.011],"nice":false,"zero":false}},"text":{"field":"t"}}}
      ]}
    ]}
  ],"spacing":28}
 ],"spacing":24,
 "resolve":{"scale":{"color":"independent","fill":"independent","stroke":"independent","shape":"independent","size":"independent"}}}
]
}
